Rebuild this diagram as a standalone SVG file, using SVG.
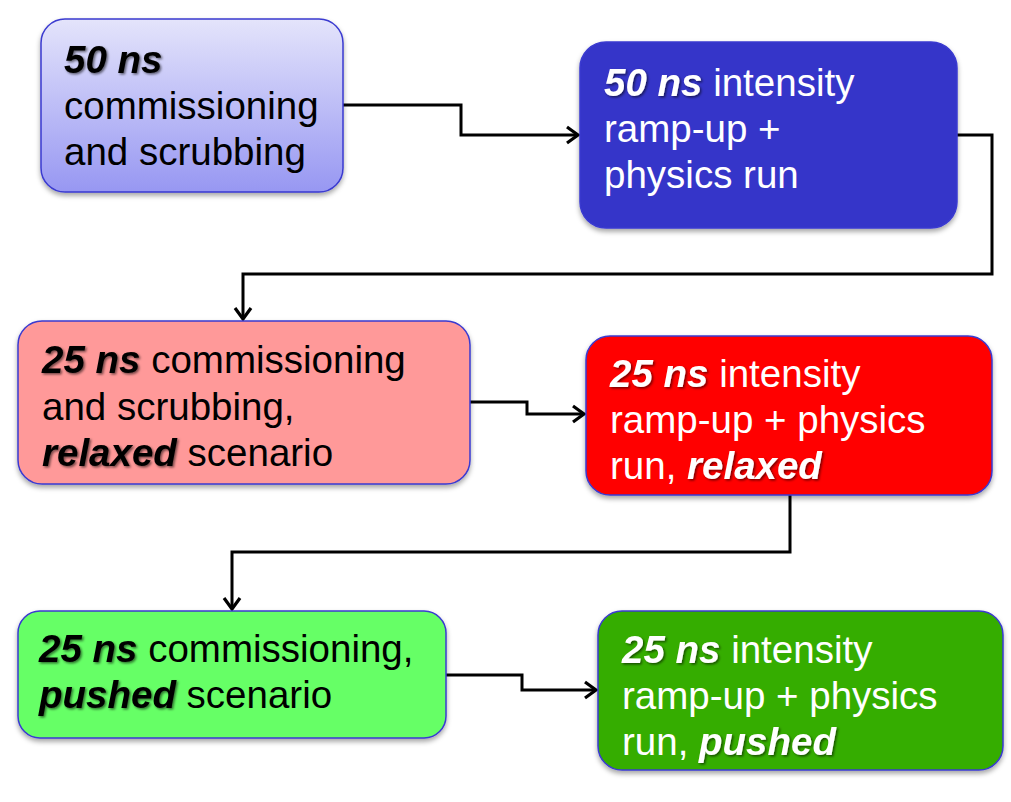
<svg xmlns="http://www.w3.org/2000/svg" width="1011" height="802" viewBox="0 0 1011 802">
<defs>
<linearGradient id="g1" x1="0" y1="0" x2="0" y2="1">
<stop offset="0" stop-color="#e4e4fb"/>
<stop offset="1" stop-color="#9797f2"/>
</linearGradient>
<filter id="sh" x="-10%" y="-10%" width="120%" height="130%">
<feDropShadow dx="0" dy="3" stdDeviation="2.5" flood-color="#000" flood-opacity="0.35"/>
</filter>
<filter id="tsh" x="-10%" y="-20%" width="130%" height="150%">
<feDropShadow dx="1.5" dy="1.5" stdDeviation="1" flood-color="#000" flood-opacity="0.55"/>
</filter>
<marker id="arr" markerUnits="userSpaceOnUse" markerWidth="20" markerHeight="20" viewBox="0 0 20 20" refX="17" refY="10" orient="auto">
<path d="M6,2 L17,10 L6,18" fill="none" stroke="#000" stroke-width="3.2"/>
</marker>
</defs>
<style>
.box{stroke:#3a3ad0;stroke-width:1.5;filter:url(#sh)}
.t{font-family:"Liberation Sans",Arial,sans-serif;font-size:38.5px}
.dk{fill:#000}
.lt{fill:#fff}
.b{font-weight:bold;font-style:italic;filter:url(#tsh)}
.c{fill:none;stroke:#000;stroke-width:3;stroke-linejoin:miter}
</style>
<g id="connectors">
<path class="c" d="M343,105 H461 V135 H578" marker-end="url(#arr)"/>
<path class="c" d="M957,135 H992 V274 H243 V319" marker-end="url(#arr)"/>
<path class="c" d="M470,402 H527 V414 H584" marker-end="url(#arr)"/>
<path class="c" d="M790,495 V552 H232 V609" marker-end="url(#arr)"/>
<path class="c" d="M446,675 H522 V690 H596" marker-end="url(#arr)"/>
</g>
<g id="n1">
<rect class="box" x="41" y="19" width="302" height="173" rx="24" fill="url(#g1)"/>
<text class="t dk" x="64" y="73"><tspan class="b">50 ns</tspan></text>
<text class="t dk" x="64" y="119">commissioning</text>
<text class="t dk" x="64" y="165">and scrubbing</text>
</g>
<g id="n2">
<rect class="box" x="580" y="42" width="377" height="186" rx="26" fill="#3434c9" stroke="#3434c9"/>
<text class="t lt" x="604" y="96"><tspan class="b">50 ns</tspan> intensity</text>
<text class="t lt" x="604" y="142">ramp-up +</text>
<text class="t lt" x="604" y="188">physics run</text>
</g>
<g id="n3">
<rect class="box" x="18" y="321" width="452" height="163" rx="24" fill="#ff9999"/>
<text class="t dk" x="42" y="373"><tspan class="b">25 ns</tspan> commissioning</text>
<text class="t dk" x="42" y="420">and scrubbing,</text>
<text class="t dk" x="42" y="466"><tspan class="b">relaxed</tspan> scenario</text>
</g>
<g id="n4">
<rect class="box" x="586" y="336" width="406" height="159" rx="24" fill="#ff0000"/>
<text class="t lt" x="610" y="387"><tspan class="b">25 ns</tspan> intensity</text>
<text class="t lt" x="610" y="433">ramp-up + physics</text>
<text class="t lt" x="610" y="479">run, <tspan class="b">relaxed</tspan></text>
</g>
<g id="n5">
<rect class="box" x="18" y="611" width="428" height="127" rx="22" fill="#66ff66"/>
<text class="t dk" x="39" y="662"><tspan class="b">25 ns</tspan> commissioning,</text>
<text class="t dk" x="39" y="708"><tspan class="b">pushed</tspan> scenario</text>
</g>
<g id="n6">
<rect class="box" x="598" y="611" width="405" height="159" rx="24" fill="#35ad00"/>
<text class="t lt" x="622" y="663"><tspan class="b">25 ns</tspan> intensity</text>
<text class="t lt" x="622" y="709">ramp-up + physics</text>
<text class="t lt" x="622" y="755">run, <tspan class="b">pushed</tspan></text>
</g>
</svg>
